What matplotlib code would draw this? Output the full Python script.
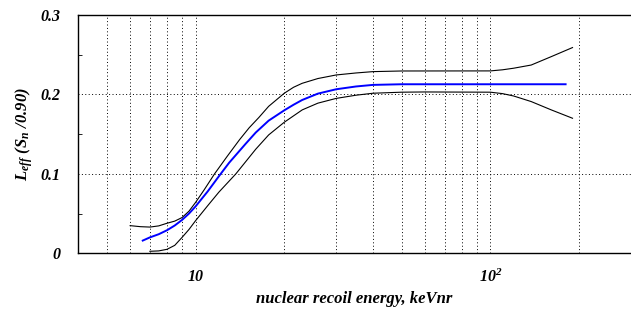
import matplotlib
matplotlib.use('Agg')
import matplotlib.pyplot as plt
from matplotlib.ticker import FixedLocator, NullFormatter, MultipleLocator

# fonts: gnuplot-ish bold italic serif
plt.rcParams['font.family'] = 'Liberation Serif'
plt.rcParams['font.weight'] = 'bold'
plt.rcParams['font.style'] = 'italic'
plt.rcParams['mathtext.fontset'] = 'custom'
plt.rcParams['mathtext.rm'] = 'Liberation Serif:bold:italic'
plt.rcParams['mathtext.it'] = 'Liberation Serif:bold:italic'
plt.rcParams['mathtext.bf'] = 'Liberation Serif:bold:italic'

# central curve (blue)
e_mid = [6.62, 7.0, 7.5, 8.0, 8.5, 9.0, 9.5, 10.0, 11.0, 12.0, 13.0, 14.8, 16.0, 17.7, 20.0,
         21.5, 23.0, 26.0, 30.0, 35.0, 40.0, 50.0, 100.0, 180.0]
l_mid = [0.016, 0.020, 0.024, 0.029, 0.035, 0.042, 0.050, 0.059, 0.078, 0.097, 0.114, 0.138,
         0.152, 0.167, 0.180, 0.187, 0.193, 0.201, 0.2065, 0.210, 0.212, 0.2128, 0.2128, 0.2128]

# upper band (black)
e_up = [6.0, 6.5, 7.0, 7.5, 8.0, 8.5, 9.0, 9.5, 10.0, 10.7, 11.6, 12.8, 14.1, 15.2, 16.4,
        17.7, 20.0, 21.5, 23.0, 26.0, 30.0, 35.0, 40.0, 50.0, 100.0, 110.0, 120.0, 137.6,
        161.0, 190.0]
l_up = [0.0348, 0.0335, 0.033, 0.0345, 0.0378, 0.0405, 0.045, 0.053, 0.064, 0.080, 0.100,
        0.122, 0.143, 0.158, 0.171, 0.185, 0.2015, 0.209, 0.214, 0.220, 0.2245, 0.227, 0.2287,
        0.2295, 0.2296, 0.231, 0.233, 0.237, 0.2476, 0.259]

# lower band (black)
e_lo = [7.0, 7.5, 8.0, 8.5, 9.0, 9.5, 10.0, 11.0, 12.0, 13.7, 16.0, 17.7, 20.0, 23.0, 26.0,
        30.0, 35.0, 40.0, 50.0, 60.0, 100.0, 110.0, 120.0, 137.6, 161.0, 190.0]
l_lo = [0.0025, 0.003, 0.005, 0.010, 0.020, 0.030, 0.041, 0.060, 0.077, 0.100, 0.131, 0.149,
        0.165, 0.1805, 0.189, 0.195, 0.199, 0.2015, 0.2028, 0.2031, 0.2028, 0.201, 0.198,
        0.191, 0.1805, 0.170]

x_major = [10, 100]
x_labels = ['10', r'$10^{2}$']
x_minor = [5, 6, 7, 8, 9, 20, 30, 40, 50, 60, 70, 80, 90, 200]

fig = plt.figure(figsize=(6.31, 3.09), dpi=100)
ax = fig.add_axes([0.124, 0.1803, 0.876, 0.7712])

ax.plot(e_up, l_up, color='black', lw=0.8)
ax.plot(e_lo, l_lo, color='black', lw=0.8)
ax.plot(e_mid, l_mid, color='#0000ff', lw=1.4)

ax.set_xscale('log')
ax.set_xlim(4, 300)
ax.set_ylim(0, 0.3)

ax.xaxis.set_major_locator(FixedLocator(x_major))
ax.set_xticklabels(x_labels)
ax.xaxis.set_minor_locator(FixedLocator(x_minor))
ax.xaxis.set_minor_formatter(NullFormatter())
ax.yaxis.set_minor_locator(MultipleLocator(0.05))
ax.set_yticks([0, 0.1, 0.2, 0.3])
ax.set_yticklabels(['0', '0.1', '0.2', '0.3'])

dots = (0, (1, 2.5))
ax.grid(True, which='both', axis='x', color='black', lw=0.7, linestyle=dots)
ax.grid(True, which='major', axis='y', color='black', lw=0.7, linestyle=dots)

ax.tick_params(axis='x', which='both', length=0, pad=11, labelsize=11.5)
ax.tick_params(axis='y', which='major', length=0, pad=13, labelsize=11.5)
ax.tick_params(axis='y', which='minor', direction='in', length=3, width=0.6)

ax.spines['right'].set_visible(False)
for s in ['left', 'top', 'bottom']:
    ax.spines[s].set_linewidth(1.0)

ax.set_xlabel('nuclear recoil energy, keVnr', fontsize=12, fontweight='bold',
              fontstyle='italic', labelpad=4)
ax.set_ylabel(r'$L_{eff}\ (S_n\ /0.90)$', fontsize=12, labelpad=4)

fig.savefig('out.png', dpi=100)
